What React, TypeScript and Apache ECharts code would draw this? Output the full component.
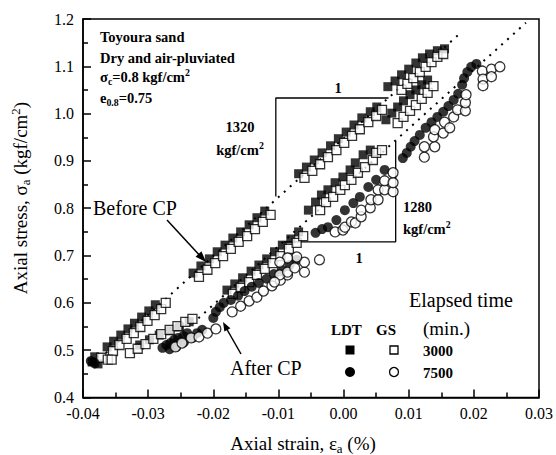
import React, { useEffect, useRef } from "react";
import * as echarts from "echarts";

// ---- Axis ticks ----
const xTicks = { min: -0.04, max: 0.03, interval: 0.01 };
const yTicks = { min: 0.4, max: 1.2, interval: 0.1 };

// ---- Data: [axial strain (%), axial stress (kgf/cm2)] ----
// LDT, 3000 min (filled squares)
const ldt3000: number[][] = [
  [-0.0363, 0.507], [-0.0353, 0.519], [-0.0342, 0.532], [-0.0331, 0.545], [-0.0321, 0.557], [-0.031, 0.57], [-0.0299, 0.583], [-0.0289, 0.596],
  [-0.0231, 0.663], [-0.0219, 0.678], [-0.0206, 0.693], [-0.0194, 0.708], [-0.0182, 0.722], [-0.017, 0.737], [-0.0158, 0.75], [-0.0145, 0.765], [-0.0133, 0.78], [-0.0121, 0.794],
  [-0.0069, 0.873], [-0.0057, 0.887], [-0.0045, 0.902], [-0.0033, 0.917], [-0.002, 0.932], [-0.0008, 0.947], [0.0004, 0.961], [0.0016, 0.976], [0.0028, 0.991], [0.0041, 1.004], [0.0051, 1.014],
  [0.0068, 1.057], [0.0079, 1.069], [0.0089, 1.082], [0.01, 1.094], [0.0111, 1.107], [0.0121, 1.118], [0.0132, 1.126], [0.0144, 1.133], [0.0155, 1.137],
  [0.0065, 0.987], [0.0074, 1.001], [0.0083, 1.014], [0.0092, 1.027], [0.0102, 1.04], [0.0111, 1.05], [0.012, 1.061], [0.0129, 1.071],
  [-0.0386, 0.475], [-0.0382, 0.486], [-0.0377, 0.471],
  [-0.0313, 0.511], [-0.0298, 0.522], [-0.0283, 0.532], [-0.0267, 0.541], [-0.0252, 0.549], [-0.0237, 0.56],
  [-0.0179, 0.627], [-0.0167, 0.64], [-0.0155, 0.653], [-0.0142, 0.667], [-0.013, 0.68], [-0.0118, 0.693], [-0.0106, 0.708], [-0.0094, 0.722], [-0.0081, 0.735], [-0.0069, 0.75],
  [-0.0054, 0.796], [-0.0043, 0.813], [-0.0034, 0.828], [-0.0024, 0.839], [-0.0013, 0.854], [-0.0001, 0.866], [0.001, 0.881], [0.0018, 0.896], [0.003, 0.913], [0.0041, 0.923],
];

// GS, 3000 min (open squares)
const gs3000: number[][] = [
  [-0.0354, 0.498], [-0.0344, 0.511], [-0.0333, 0.524], [-0.0322, 0.536], [-0.0312, 0.549], [-0.0301, 0.562], [-0.029, 0.574], [-0.028, 0.587], [-0.0273, 0.6],
  [-0.0222, 0.655], [-0.0209, 0.67], [-0.0197, 0.684], [-0.0185, 0.699], [-0.0173, 0.714], [-0.0161, 0.729], [-0.0148, 0.741], [-0.0136, 0.756], [-0.0124, 0.771], [-0.0112, 0.786],
  [-0.006, 0.864], [-0.0048, 0.879], [-0.0036, 0.893], [-0.0024, 0.908], [-0.0011, 0.923], [0.0001, 0.938], [0.0013, 0.953], [0.0025, 0.967], [0.0038, 0.982], [0.005, 0.995], [0.0059, 1.008],
  [0.0089, 1.05], [0.0098, 1.063], [0.0107, 1.075], [0.0117, 1.088], [0.0126, 1.099], [0.0135, 1.109], [0.0144, 1.12], [0.0153, 1.126],
  [0.0083, 0.98], [0.0092, 0.993], [0.0102, 1.006], [0.0111, 1.018], [0.012, 1.031], [0.0129, 1.044], [0.0138, 1.058],
  [-0.0372, 0.484], [-0.0362, 0.48], [-0.0356, 0.48],
  [-0.0328, 0.494], [-0.0316, 0.503], [-0.0304, 0.513], [-0.0292, 0.524], [-0.028, 0.534], [-0.0267, 0.543], [-0.0255, 0.551], [-0.0243, 0.56], [-0.0232, 0.566],
  [-0.017, 0.619], [-0.0158, 0.632], [-0.0145, 0.644], [-0.0133, 0.659], [-0.0121, 0.672], [-0.0109, 0.684], [-0.0097, 0.699], [-0.0084, 0.714], [-0.0072, 0.727], [-0.0062, 0.741],
  [-0.0036, 0.796], [-0.0027, 0.813], [-0.0016, 0.824], [-0.0005, 0.839], [0.0002, 0.849], [0.0012, 0.86], [0.0022, 0.875], [0.0033, 0.887], [0.0045, 0.902], [0.005, 0.917], [0.0059, 0.923],
];

// LDT, 7500 min (filled circles)
const ldt7500: number[][] = [
  [-0.0388, 0.477], [-0.0382, 0.472],
  [-0.0278, 0.505], [-0.0272, 0.511], [-0.0266, 0.515], [-0.026, 0.522], [-0.0254, 0.526], [-0.0246, 0.53], [-0.024, 0.536], [-0.0267, 0.502], [-0.0257, 0.507], [-0.0245, 0.517], [-0.0232, 0.526], [-0.0225, 0.536], [-0.0217, 0.543],
  [-0.02, 0.568], [-0.0196, 0.581], [-0.019, 0.591], [-0.0184, 0.6],
  [-0.0173, 0.606], [-0.0162, 0.615], [-0.0152, 0.625], [-0.0141, 0.634], [-0.013, 0.642], [-0.0118, 0.651], [-0.0107, 0.661], [-0.0095, 0.67], [-0.0083, 0.68], [-0.0072, 0.691],
  [-0.0043, 0.748], [-0.0033, 0.756], [-0.0024, 0.76], [-0.0011, 0.775], [0.0002, 0.796], [0.0015, 0.811], [0.0025, 0.824], [0.0038, 0.845], [0.005, 0.86], [0.0063, 0.881],
  [0.0091, 0.906], [0.0097, 0.917], [0.0103, 0.93], [0.0109, 0.942], [0.0117, 0.955], [0.0126, 0.97], [0.0135, 0.982], [0.0144, 0.993], [0.0153, 1.004], [0.0161, 1.016], [0.0169, 1.029], [0.0176, 1.042],
  [0.0182, 1.061], [0.0185, 1.075], [0.019, 1.088], [0.0196, 1.099], [0.0204, 1.105],
];

// GS, 7500 min (open circles)
const gs7500: number[][] = [
  [-0.0258, 0.507], [-0.0248, 0.515], [-0.0234, 0.526], [-0.0222, 0.528], [-0.0209, 0.536], [-0.0196, 0.545],
  [-0.0171, 0.581], [-0.0158, 0.593], [-0.0145, 0.604], [-0.0133, 0.612], [-0.0123, 0.625], [-0.011, 0.636], [-0.0097, 0.648], [-0.0086, 0.659], [-0.0098, 0.659], [-0.0106, 0.644], [-0.0086, 0.665], [-0.0075, 0.674], [-0.006, 0.665], [-0.006, 0.686], [-0.0072, 0.697], [-0.0086, 0.695], [-0.0098, 0.686], [-0.0037, 0.691],
  [-0.0013, 0.75], [-0.0001, 0.754], [0.0002, 0.76], [0.0012, 0.771], [0.0018, 0.769], [0.0027, 0.782], [0.0027, 0.796], [0.0041, 0.801], [0.0042, 0.818], [0.0053, 0.818], [0.0053, 0.839], [0.0063, 0.839], [0.0063, 0.858], [0.0076, 0.835], [0.0076, 0.854], [0.0076, 0.875],
  [0.0124, 0.908], [0.0124, 0.93], [0.014, 0.93], [0.0138, 0.951], [0.014, 0.966], [0.0153, 0.959], [0.0155, 0.982], [0.0163, 0.97], [0.0169, 0.993], [0.0175, 1.008], [0.0187, 1.006], [0.0187, 1.023], [0.0188, 1.04],
  [0.0213, 1.09], [0.0227, 1.094], [0.024, 1.099], [0.0214, 1.073], [0.0227, 1.078], [0.0214, 1.059],
];

// Dotted reference lines (stiffness slopes)
const upperLine: number[][] = [[-0.0365, 0.494], [0.0179, 1.17]];
const lowerLine: number[][] = [[-0.0232, 0.556], [0.028, 1.192]];
// Slope triangles
const upperTriangle: number[][] = [[-0.0104, 0.825], [-0.0104, 1.033], [0.0069, 1.033]];
const lowerTriangle: number[][] = [[-0.0092, 0.729], [0.008, 0.729], [0.008, 0.942]];

const FONT = "'Liberation Serif', 'Times New Roman', serif";

function txt(x: number, y: number, text: string, o: any = {}) {
  const size = o.size ?? 14.5;
  const weight = o.weight ?? "bold";
  const base = { fontFamily: FONT, fontSize: size, fontWeight: weight, fill: "#000" };
  return {
    type: "text",
    x,
    y,
    rotation: o.rotation ?? 0,
    z: 100,
    style: {
      text,
      ...base,
      align: o.align ?? "left",
      verticalAlign: "middle",
      rich: {
        n: { ...base, lineHeight: size + 4, verticalAlign: "middle" },
        sub: { ...base, fontSize: size * 0.68, verticalAlign: "bottom", lineHeight: size * 0.7 },
        sup: { ...base, fontSize: size * 0.68, verticalAlign: "top", lineHeight: size * 0.7 },
      },
    },
  };
}

function arrowHead(tx: number, ty: number, fx: number, fy: number, len: number, half: number) {
  const dx = tx - fx, dy = ty - fy;
  const l = Math.hypot(dx, dy);
  const ux = dx / l, uy = dy / l;
  const bx = tx - ux * len, by = ty - uy * len;
  return {
    type: "polygon",
    z: 100,
    shape: { points: [[tx, ty], [bx - uy * half, by + ux * half], [bx + uy * half, by - ux * half]] },
    style: { fill: "#000" },
  };
}

export default function App() {
  const ref = useRef<HTMLDivElement>(null);
  useEffect(() => {
    if (!ref.current) return;
    const chart = echarts.init(ref.current, null, { renderer: "svg" });
    const sq = 9;
    const ci = 10;
    const axisCommon = {
      type: "value",
      axisLine: { show: true, onZero: false, lineStyle: { color: "#000", width: 1.5 } },
      axisTick: { show: true, inside: true, length: 8, lineStyle: { color: "#000", width: 1.5 } },
      minorTick: { show: true, splitNumber: 2, length: 5, lineStyle: { color: "#000", width: 1.5 } },
      splitLine: { show: false },
    };
    const option: any = {
      animation: false,
      backgroundColor: "#fff",
      grid: { left: 83, right: 14, top: 19, bottom: 57.5, show: true, borderColor: "#000", borderWidth: 1.5 },
      xAxis: {
        ...axisCommon,
        min: xTicks.min,
        max: xTicks.max,
        interval: xTicks.interval,
        axisLabel: {
          color: "#000", fontFamily: FONT, fontSize: 16, margin: 8,
          formatter: (v: number) => v.toFixed(2),
        },
      },
      yAxis: {
        ...axisCommon,
        min: yTicks.min,
        max: yTicks.max,
        interval: yTicks.interval,
        axisLabel: {
          color: "#000", fontFamily: FONT, fontSize: 16, margin: 9,
          formatter: (v: number) => v.toFixed(1),
        },
      },
      series: [
        { type: "line", data: upperLine, symbol: "none", z: 1, lineStyle: { color: "#000", width: 2, type: [2, 6] } },
        { type: "line", data: lowerLine, symbol: "none", z: 1, lineStyle: { color: "#000", width: 2, type: [2, 6] } },
        { type: "line", data: upperTriangle, symbol: "none", z: 1, lineStyle: { color: "#000", width: 1.3 } },
        { type: "line", data: lowerTriangle, symbol: "none", z: 1, lineStyle: { color: "#000", width: 1.3 } },
        { name: "LDT 3000", type: "scatter", data: ldt3000, symbol: "rect", symbolSize: sq, z: 2, itemStyle: { color: "#000" } },
        { name: "GS 3000", type: "scatter", data: gs3000, symbol: "rect", symbolSize: sq, z: 3, itemStyle: { color: "#fff", borderColor: "#000", borderWidth: 1.3 } },
        { name: "LDT 7500", type: "scatter", data: ldt7500, symbol: "circle", symbolSize: ci, z: 4, itemStyle: { color: "#000" } },
        { name: "GS 7500", type: "scatter", data: gs7500, symbol: "circle", symbolSize: ci, z: 5, itemStyle: { color: "#fff", borderColor: "#000", borderWidth: 1.3 } },
      ],
      graphic: [
        txt(100, 37, "Toyoura sand"),
        txt(100, 58, "Dry and air-pluviated"),
        txt(100, 77, "{n|σ}{sub|c}{n|=0.8 kgf/cm}{sup|2}"),
        txt(100, 98, "{n|e}{sub|0.8}{n|=0.75}"),
        txt(240, 127, "1320", { align: "center" }),
        txt(240, 150, "{n|kgf/cm}{sup|2}", { align: "center" }),
        txt(338, 88, "1", { align: "center" }),
        txt(403, 207, "1280"),
        txt(403, 229, "{n|kgf/cm}{sup|2}"),
        txt(359, 258, "1", { align: "center" }),
        txt(93, 208, "Before CP", { size: 20, weight: "normal" }),
        txt(230, 368, "After CP", { size: 20, weight: "normal" }),
        txt(409, 300, "Elapsed time", { size: 20, weight: "normal" }),
        txt(331, 330, "LDT", { size: 15 }),
        txt(376, 330, "GS", { size: 15 }),
        txt(423, 328, "(min.)", { size: 19, weight: "normal" }),
        txt(423, 351, "3000", { size: 15 }),
        txt(423, 373, "7500", { size: 15 }),
        { type: "rect", z: 100, shape: { x: 345.5, y: 345.5, width: 9, height: 9 }, style: { fill: "#000" } },
        { type: "rect", z: 100, shape: { x: 390, y: 346, width: 8, height: 8 }, style: { fill: "#fff", stroke: "#000", lineWidth: 1.3 } },
        { type: "circle", z: 100, shape: { cx: 350, cy: 372, r: 5 }, style: { fill: "#000" } },
        { type: "circle", z: 100, shape: { cx: 394, cy: 372, r: 4.5 }, style: { fill: "#fff", stroke: "#000", lineWidth: 1.3 } },
        { type: "line", z: 100, shape: { x1: 167, y1: 220, x2: 203, y2: 259 }, style: { stroke: "#000", lineWidth: 1.5 } },
        arrowHead(206, 262, 167, 220, 11, 4),
        { type: "line", z: 100, shape: { x1: 241, y1: 354, x2: 225, y2: 326 }, style: { stroke: "#000", lineWidth: 1.5 } },
        arrowHead(223, 322, 241, 354, 9, 3.5),
        txt(303, 443, "{n|Axial strain, ε}{sub|a}{n| (%)}", { size: 19, weight: "normal", align: "center" }),
        txt(20, 198, "{n|Axial stress, σ}{sub|a}{n| (kgf/cm}{sup|2}{n|)}", { size: 19, weight: "normal", align: "center", rotation: Math.PI / 2 }),
      ],
    };
    chart.setOption(option);
    return () => chart.dispose();
  }, []);
  return (
    <div
      ref={ref}
      style={{ position: "fixed", left: 0, top: 0, width: 556, height: 455, background: "#fff" }}
    />
  );
}
